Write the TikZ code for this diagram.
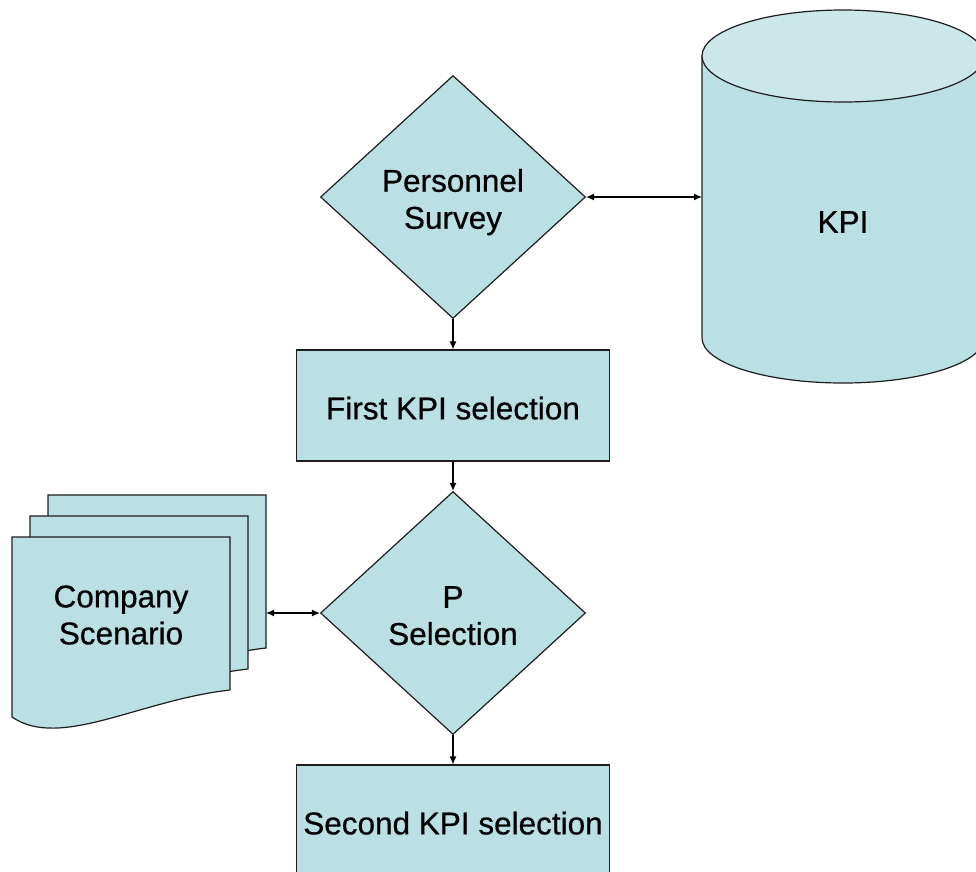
\documentclass[tikz,border=0pt]{standalone}
\usepackage{fontspec}
\setmainfont[FakeBold=0.6]{Liberation Sans}
\usetikzlibrary{shapes.geometric,arrows.meta}
\definecolor{boxfill}{HTML}{BBE0E3}
\definecolor{cyltop}{HTML}{CBE7EA}
\definecolor{edge}{HTML}{1E1E1E}
\tikzset{
  flowtext/.style={font=\fontsize{31.5}{37}\selectfont, align=center},
  decision/.style={diamond, draw=edge, fill=boxfill, line width=1.2pt, inner sep=0pt,
    minimum width=265pt, minimum height=243pt, flowtext},
  process/.style={rectangle, draw=edge, fill=boxfill, line width=1.2pt, inner sep=0pt,
    minimum width=313pt, minimum height=111pt, flowtext},
  shapeline/.style={draw=edge, fill=boxfill, line width=1.2pt},
  link/.style={draw=black, line width=1.2pt, -{Latex[length=8pt,width=7pt]}},
  twolink/.style={link, {Latex[length=8pt,width=7pt]}-{Latex[length=8pt,width=7pt]}}
}
\begin{document}
\begin{tikzpicture}[x=1pt,y=1pt]
  \useasboundingbox (0,0) rectangle (976,-871);
  \clip (0,0) rectangle (976,-871);
  % KPI store
  \filldraw[shapeline] (702,-56) -- (702,-338) arc (180:360:141 and 45) -- (984,-56) -- cycle;
  \filldraw[shapeline, fill=cyltop] (843,-56) ellipse (141 and 46);
  \node[flowtext] (kpi) at (843,-222) {KPI};
  \coordinate (kpiL) at (702,-197);
  % scenario documents
  \foreach \k in {2,1,0}
    \filldraw[shapeline, shift={(18*\k,21*\k)}] (12,-537) -- (230,-537) -- (230,-690)
      .. controls (140,-700) and (60,-750) .. (12,-717) -- cycle;
  \node[flowtext] (doc) at (121,-615) {Company\\Scenario};
  \coordinate (docR) at (266,-613);
  % flow
  \node[decision, text height=70pt] (survey) at (453,-197) {Personnel\\Survey};
  \node[process, text height=28pt] (first) at (453,-405.5) {First KPI selection};
  \node[decision, text height=64pt] (psel) at (453,-613) {P\\Selection};
  \node[process, text height=28pt] (second) at (453,-820.5) {Second KPI selection};
  \draw[link] (survey) -- (first);
  \draw[link] (first) -- (psel);
  \draw[link] (psel) -- (second);
  \draw[twolink] (survey.east) -- (kpiL);
  \draw[twolink] (docR) -- (psel.west);
\end{tikzpicture}
\end{document}
